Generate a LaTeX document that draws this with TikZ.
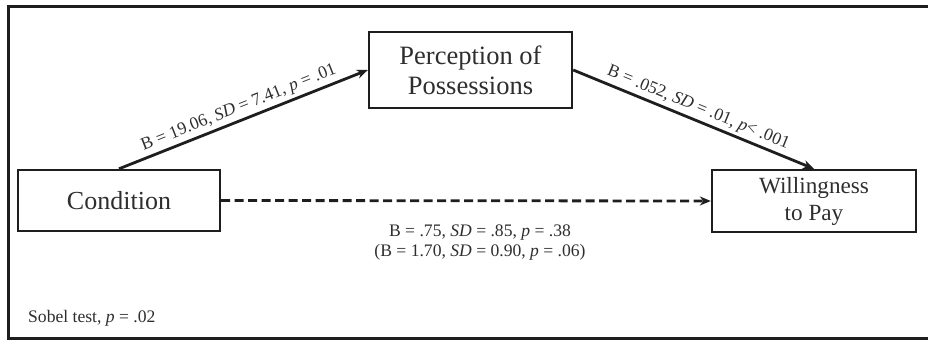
\documentclass[tikz,border=0pt]{standalone}
\usepackage{fontspec}
\setmainfont{Liberation Serif}
\usetikzlibrary{arrows.meta}
\definecolor{ink}{HTML}{1E1E1E}
\definecolor{txt}{HTML}{2E2E2E}
\begin{document}
\begin{tikzpicture}[x=1pt,y=-1pt,
  varbox/.style={draw=ink, line width=2.4pt, rectangle, inner sep=0pt, align=center, text=txt},
  path/.style={draw=ink, line width=2.8pt, -{Stealth[length=11pt,width=9pt]}},
  lbl/.style={text=txt, font=\fontsize{17.6}{20}\selectfont, inner sep=3pt}
]
\useasboundingbox (0,0) rectangle (928,340);
\draw[ink, line width=3pt] (935,6) -- (8,6) -- (8,338) -- (935,338);

\node[varbox, minimum width=202pt, minimum height=61pt, font=\fontsize{26}{30}\selectfont] (cond) at (119,200.5) {Condition};
\node[varbox, minimum width=203pt, minimum height=76pt, font=\fontsize{26.5}{30}\selectfont] (perc) at (470.5,70) {Perception of\\Possessions};
\node[varbox, minimum width=204pt, minimum height=62pt, font=\fontsize{23.2}{27}\selectfont] (will) at (814,201) {Willingness\\to Pay};

\draw[path] (cond.north) -- node[lbl, sloped, above] (la) {B = 19.06, \textit{SD} = 7.41, \textit{p} = .01} (perc.west);
\draw[path] (perc.east) -- node[lbl, sloped, above] (lb) {B = .052, \textit{SD} = .01, \textit{p}< .001} (will.north);
\draw[path, dash pattern=on 9pt off 4.5pt] (cond.east) -- (will.west);

\node[lbl, align=center, font=\fontsize{17.6}{20}\selectfont, anchor=north] (lc) at (480,222) {B = .75, \textit{SD} = .85, \textit{p} = .38\\(B = 1.70, \textit{SD} = 0.90, \textit{p} = .06)};
\node[lbl, anchor=west] (sob) at (25,318) {Sobel test, \textit{p} = .02};
\end{tikzpicture}
\end{document}
